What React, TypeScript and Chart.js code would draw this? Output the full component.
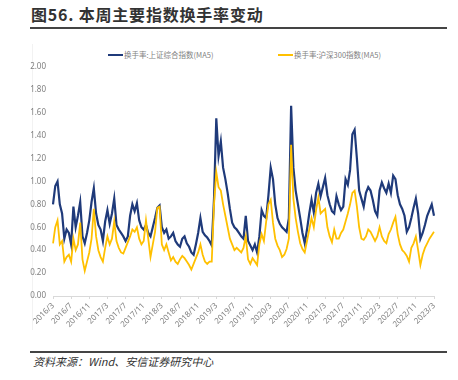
import React, { useEffect, useRef } from "react";
import { Chart, registerables } from "chart.js";

Chart.register(...registerables);

const tickLabels = [
  "2016/3", "2016/7", "2016/11", "2017/3", "2017/7", "2017/11", "2018/3", "2018/7",
  "2018/11", "2019/3", "2019/7", "2019/11", "2020/3", "2020/7", "2020/11", "2021/3",
  "2021/7", "2021/11", "2022/3", "2022/7", "2022/11", "2023/3",
];

const pointsPerTick = 8;

const shTurnover = [
  0.80, 0.96, 1.00, 0.80, 0.72, 0.50, 0.58, 0.55, 0.45, 0.78, 0.60, 0.70, 0.82, 0.52, 0.46, 0.55,
  0.66, 0.82, 0.94, 0.72, 0.62, 0.58, 0.48, 0.65, 0.75, 0.63, 0.72, 0.85, 0.62, 0.58, 0.55, 0.52,
  0.48, 0.52, 0.70, 0.80, 0.74, 0.81, 0.66, 0.60, 0.58, 0.62, 0.55, 0.52, 0.60, 0.68, 0.77, 0.79,
  0.60, 0.55, 0.58, 0.50, 0.52, 0.55, 0.48, 0.45, 0.43, 0.50, 0.52, 0.46, 0.43, 0.38, 0.36, 0.45,
  0.55, 0.68, 0.56, 0.53, 0.51, 0.48, 0.44, 0.85, 1.55, 1.22, 1.35, 1.12, 1.02, 0.90, 0.76, 0.64,
  0.60, 0.58, 0.55, 0.52, 0.50, 0.70, 0.48, 0.44, 0.40, 0.45, 0.38, 0.52, 0.75, 0.70, 0.68, 0.88,
  1.12, 1.02, 0.80, 0.68, 0.63, 0.60, 0.58, 0.56, 0.68, 1.66, 1.12, 0.92, 0.80, 0.68, 0.55, 0.46,
  0.58, 0.72, 0.84, 0.73, 0.90, 0.98, 0.87, 0.95, 1.03, 0.88, 0.80, 0.74, 0.72, 0.87, 0.80, 0.75,
  0.78, 1.02, 0.97, 1.10, 1.41, 1.45, 1.20, 0.92, 0.85, 0.78, 0.90, 0.95, 0.92, 0.84, 0.74, 0.70,
  0.92, 0.99, 0.94, 0.90, 0.98, 0.90, 1.05, 1.02, 0.88, 0.80, 0.76, 0.70, 0.56, 0.60, 0.68, 0.77,
  0.85, 0.72, 0.50, 0.55, 0.62, 0.70, 0.75, 0.80, 0.70,
];

const hs300Turnover = [
  0.46, 0.60, 0.66, 0.45, 0.48, 0.30, 0.34, 0.36, 0.30, 0.50, 0.40, 0.45, 0.64, 0.32, 0.22, 0.30,
  0.38, 0.50, 0.76, 0.52, 0.40, 0.34, 0.30, 0.42, 0.52, 0.45, 0.50, 0.65, 0.48, 0.42, 0.38, 0.37,
  0.42, 0.47, 0.52, 0.58, 0.56, 0.60, 0.50, 0.45, 0.48, 0.66, 0.50, 0.34, 0.45, 0.56, 0.77, 0.78,
  0.45, 0.40, 0.45, 0.38, 0.31, 0.34, 0.30, 0.28, 0.32, 0.35, 0.33, 0.30, 0.27, 0.23, 0.28, 0.33,
  0.38, 0.45, 0.36, 0.30, 0.28, 0.30, 0.30, 0.80, 1.08, 0.95, 0.92, 0.80, 0.70, 0.60, 0.50, 0.45,
  0.40, 0.42, 0.40, 0.38, 0.42, 0.52, 0.32, 0.28, 0.33, 0.30, 0.27, 0.45, 0.54, 0.48, 0.65, 0.80,
  0.84, 0.64, 0.50, 0.44, 0.40, 0.34, 0.36, 0.41, 0.50, 1.32, 0.85, 0.68, 0.56, 0.46, 0.41, 0.38,
  0.48, 0.58, 0.68, 0.60, 0.75, 0.86, 0.72, 0.74, 0.76, 0.60, 0.52, 0.47, 0.58, 0.50, 0.50, 0.55,
  0.58, 0.65, 0.72, 0.80, 0.90, 0.92, 0.78, 0.60, 0.50, 0.49, 0.52, 0.58, 0.56, 0.52, 0.48, 0.52,
  0.60, 0.52, 0.48, 0.46, 0.54, 0.58, 0.64, 0.69, 0.54, 0.45, 0.40, 0.38, 0.35, 0.30, 0.42, 0.46,
  0.52, 0.40, 0.27, 0.36, 0.42, 0.46, 0.50, 0.53, 0.56,
];

const seriesNames = ["换手率:上证综合指数(MA5)", "换手率:沪深300指数(MA5)"];
const seriesColors = ["#1f3a7a", "#ffc000"];

const categories = shTurnover.map((_, i) =>
  i % pointsPerTick === 0 ? tickLabels[i / pointsPerTick] ?? "" : ""
);

export default function App() {
  const ref = useRef<HTMLCanvasElement | null>(null);

  useEffect(() => {
    if (!ref.current) return;
    const chart = new Chart(ref.current, {
      type: "line",
      data: {
        labels: categories,
        datasets: [
          {
            label: seriesNames[0],
            data: shTurnover,
            borderColor: seriesColors[0],
            borderWidth: 2.2,
            pointRadius: 0,
            tension: 0,
            order: 2,
          },
          {
            label: seriesNames[1],
            data: hs300Turnover,
            borderColor: seriesColors[1],
            borderWidth: 1.8,
            pointRadius: 0,
            tension: 0,
            order: 1,
          },
        ],
      },
      options: {
        animation: false,
        responsive: false,
        maintainAspectRatio: false,
        layout: { padding: { top: 10, right: 24, bottom: 0, left: 0 } },
        plugins: { legend: { display: false }, tooltip: { enabled: false } },
        scales: {
          x: {
            type: "category",
            offset: false,
            grid: {
              display: true,
              drawOnChartArea: false,
              drawTicks: true,
              tickLength: 3,
              color: (c: any) => (c.index % pointsPerTick === 0 ? "#d9d9d9" : "rgba(0,0,0,0)"),
            },
            border: { display: true, color: "#d9d9d9", width: 1 },
            ticks: {
              autoSkip: false,
              maxRotation: 45,
              minRotation: 45,
              padding: 2,
              color: "#7f7f7f",
              font: { size: 8, family: "'Noto Sans', sans-serif" },
            },
            afterFit: (s: any) => {
              s.height = 54;
            },
          },
          y: {
            min: 0,
            max: 2,
            grid: { display: false, drawTicks: false },
            border: { display: false },
            ticks: {
              stepSize: 0.2,
              padding: 7,
              color: "#7f7f7f",
              font: { size: 8, family: "'Noto Sans', sans-serif" },
              callback: (v: any) => Number(v).toFixed(2),
            },
            afterFit: (s: any) => {
              s.width = 53;
            },
          },
        },
      },
    });
    return () => chart.destroy();
  }, []);

  const cjk = "'Noto Sans CJK SC', 'Noto Sans', sans-serif";

  return (
    <div style={{ position: "absolute", left: 0, top: 0, width: 458, height: 380, background: "#fff", overflow: "hidden" }}>
      <div style={{ position: "absolute", left: 31, top: 4, fontFamily: cjk, fontWeight: 700, fontSize: 16, letterSpacing: 0.8, color: "#333", whiteSpace: "nowrap", lineHeight: "20px" }}>
        图56. 本周主要指数换手率变动
      </div>
      <div style={{ position: "absolute", left: 30, top: 27, width: 417, height: 2, background: "#444" }} />
      <div style={{ position: "absolute", left: 32, top: 44, width: 1, height: 286, background: "#f2f2f2" }} />
      <div style={{ position: "absolute", left: 108, top: 49, display: "flex", alignItems: "center", fontFamily: cjk, fontSize: 7.5, color: "#7f7f7f", whiteSpace: "nowrap" }}>
        <span style={{ display: "inline-block", width: 15, height: 2, background: seriesColors[0], marginRight: 1 }} />
        {seriesNames[0]}
      </div>
      <div style={{ position: "absolute", left: 278, top: 49, display: "flex", alignItems: "center", fontFamily: cjk, fontSize: 7.5, color: "#7f7f7f", whiteSpace: "nowrap" }}>
        <span style={{ display: "inline-block", width: 15, height: 2, background: seriesColors[1], marginRight: 1 }} />
        {seriesNames[1]}
      </div>
      <canvas ref={ref} width={458} height={295} style={{ position: "absolute", left: 0, top: 55, width: 458, height: 295 }} />
      <div style={{ position: "absolute", left: 30, top: 351, width: 417, height: 2, background: "#444" }} />
      <div style={{ position: "absolute", left: 33, top: 353, fontFamily: cjk, fontStyle: "italic", fontSize: 11, color: "#333", whiteSpace: "nowrap", lineHeight: "16px" }}>
        资料来源：Wind、安信证券研究中心
      </div>
    </div>
  );
}
